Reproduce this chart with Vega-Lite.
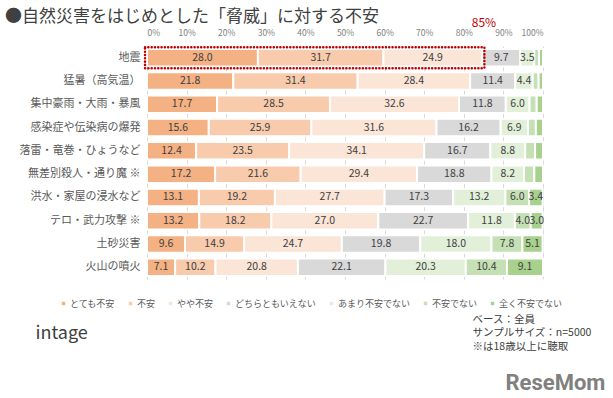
{
  "$schema": "https://vega.github.io/schema/vega-lite/v6.json",
  "width": 396,
  "height": 233,
  "autosize": {"type": "none"},
  "padding": {"left": 147, "top": 46, "right": 70, "bottom": 119},
  "background": "white",
  "config": {"font": "Noto Sans CJK JP", "view": {"stroke": null}},
  "title": {
    "text": "●自然災害をはじめとした「脅威」に対する不安",
    "anchor": "start",
    "frame": "group",
    "fontSize": 17,
    "fontWeight": "normal",
    "color": "#404040",
    "dx": -142,
    "dy": 13,
    "offset": 4
  },
  "datasets": {
    "survey": [
      {"i": "地震", "c": "とても不安", "o": 1, "v": 28.0},
      {"i": "地震", "c": "不安", "o": 2, "v": 31.7},
      {"i": "地震", "c": "やや不安", "o": 3, "v": 24.9},
      {"i": "地震", "c": "どちらともいえない", "o": 4, "v": 9.7},
      {"i": "地震", "c": "あまり不安でない", "o": 5, "v": 3.5},
      {"i": "地震", "c": "不安でない", "o": 6, "v": 1.2},
      {"i": "地震", "c": "全く不安でない", "o": 7, "v": 1.0},
      {"i": "猛暑（高気温）", "c": "とても不安", "o": 1, "v": 21.8},
      {"i": "猛暑（高気温）", "c": "不安", "o": 2, "v": 31.4},
      {"i": "猛暑（高気温）", "c": "やや不安", "o": 3, "v": 28.4},
      {"i": "猛暑（高気温）", "c": "どちらともいえない", "o": 4, "v": 11.4},
      {"i": "猛暑（高気温）", "c": "あまり不安でない", "o": 5, "v": 4.4},
      {"i": "猛暑（高気温）", "c": "不安でない", "o": 6, "v": 1.5},
      {"i": "猛暑（高気温）", "c": "全く不安でない", "o": 7, "v": 1.1},
      {"i": "集中豪雨・大雨・暴風", "c": "とても不安", "o": 1, "v": 17.7},
      {"i": "集中豪雨・大雨・暴風", "c": "不安", "o": 2, "v": 28.5},
      {"i": "集中豪雨・大雨・暴風", "c": "やや不安", "o": 3, "v": 32.6},
      {"i": "集中豪雨・大雨・暴風", "c": "どちらともいえない", "o": 4, "v": 11.8},
      {"i": "集中豪雨・大雨・暴風", "c": "あまり不安でない", "o": 5, "v": 6.0},
      {"i": "集中豪雨・大雨・暴風", "c": "不安でない", "o": 6, "v": 1.8},
      {"i": "集中豪雨・大雨・暴風", "c": "全く不安でない", "o": 7, "v": 1.6},
      {"i": "感染症や伝染病の爆発", "c": "とても不安", "o": 1, "v": 15.6},
      {"i": "感染症や伝染病の爆発", "c": "不安", "o": 2, "v": 25.9},
      {"i": "感染症や伝染病の爆発", "c": "やや不安", "o": 3, "v": 31.6},
      {"i": "感染症や伝染病の爆発", "c": "どちらともいえない", "o": 4, "v": 16.2},
      {"i": "感染症や伝染病の爆発", "c": "あまり不安でない", "o": 5, "v": 6.9},
      {"i": "感染症や伝染病の爆発", "c": "不安でない", "o": 6, "v": 2.0},
      {"i": "感染症や伝染病の爆発", "c": "全く不安でない", "o": 7, "v": 1.8},
      {"i": "落雷・竜巻・ひょうなど", "c": "とても不安", "o": 1, "v": 12.4},
      {"i": "落雷・竜巻・ひょうなど", "c": "不安", "o": 2, "v": 23.5},
      {"i": "落雷・竜巻・ひょうなど", "c": "やや不安", "o": 3, "v": 34.1},
      {"i": "落雷・竜巻・ひょうなど", "c": "どちらともいえない", "o": 4, "v": 16.7},
      {"i": "落雷・竜巻・ひょうなど", "c": "あまり不安でない", "o": 5, "v": 8.8},
      {"i": "落雷・竜巻・ひょうなど", "c": "不安でない", "o": 6, "v": 2.5},
      {"i": "落雷・竜巻・ひょうなど", "c": "全く不安でない", "o": 7, "v": 2.0},
      {"i": "無差別殺人・通り魔 ※", "c": "とても不安", "o": 1, "v": 17.2},
      {"i": "無差別殺人・通り魔 ※", "c": "不安", "o": 2, "v": 21.6},
      {"i": "無差別殺人・通り魔 ※", "c": "やや不安", "o": 3, "v": 29.4},
      {"i": "無差別殺人・通り魔 ※", "c": "どちらともいえない", "o": 4, "v": 18.8},
      {"i": "無差別殺人・通り魔 ※", "c": "あまり不安でない", "o": 5, "v": 8.2},
      {"i": "無差別殺人・通り魔 ※", "c": "不安でない", "o": 6, "v": 2.6},
      {"i": "無差別殺人・通り魔 ※", "c": "全く不安でない", "o": 7, "v": 2.2},
      {"i": "洪水・家屋の浸水など", "c": "とても不安", "o": 1, "v": 13.1},
      {"i": "洪水・家屋の浸水など", "c": "不安", "o": 2, "v": 19.2},
      {"i": "洪水・家屋の浸水など", "c": "やや不安", "o": 3, "v": 27.7},
      {"i": "洪水・家屋の浸水など", "c": "どちらともいえない", "o": 4, "v": 17.3},
      {"i": "洪水・家屋の浸水など", "c": "あまり不安でない", "o": 5, "v": 13.2},
      {"i": "洪水・家屋の浸水など", "c": "不安でない", "o": 6, "v": 6.0},
      {"i": "洪水・家屋の浸水など", "c": "全く不安でない", "o": 7, "v": 3.4},
      {"i": "テロ・武力攻撃 ※", "c": "とても不安", "o": 1, "v": 13.2},
      {"i": "テロ・武力攻撃 ※", "c": "不安", "o": 2, "v": 18.2},
      {"i": "テロ・武力攻撃 ※", "c": "やや不安", "o": 3, "v": 27.0},
      {"i": "テロ・武力攻撃 ※", "c": "どちらともいえない", "o": 4, "v": 22.7},
      {"i": "テロ・武力攻撃 ※", "c": "あまり不安でない", "o": 5, "v": 11.8},
      {"i": "テロ・武力攻撃 ※", "c": "不安でない", "o": 6, "v": 4.0},
      {"i": "テロ・武力攻撃 ※", "c": "全く不安でない", "o": 7, "v": 3.0},
      {"i": "土砂災害", "c": "とても不安", "o": 1, "v": 9.6},
      {"i": "土砂災害", "c": "不安", "o": 2, "v": 14.9},
      {"i": "土砂災害", "c": "やや不安", "o": 3, "v": 24.7},
      {"i": "土砂災害", "c": "どちらともいえない", "o": 4, "v": 19.8},
      {"i": "土砂災害", "c": "あまり不安でない", "o": 5, "v": 18.0},
      {"i": "土砂災害", "c": "不安でない", "o": 6, "v": 7.8},
      {"i": "土砂災害", "c": "全く不安でない", "o": 7, "v": 5.1},
      {"i": "火山の噴火", "c": "とても不安", "o": 1, "v": 7.1},
      {"i": "火山の噴火", "c": "不安", "o": 2, "v": 10.2},
      {"i": "火山の噴火", "c": "やや不安", "o": 3, "v": 20.8},
      {"i": "火山の噴火", "c": "どちらともいえない", "o": 4, "v": 22.1},
      {"i": "火山の噴火", "c": "あまり不安でない", "o": 5, "v": 20.3},
      {"i": "火山の噴火", "c": "不安でない", "o": 6, "v": 10.4},
      {"i": "火山の噴火", "c": "全く不安でない", "o": 7, "v": 9.1}
    ],
    "box": [{"i": "地震", "a": -0.5, "b": 85.2}],
    "note": [{"i": "地震", "x": 82, "t": "85%"}]
  },
  "resolve": {"axis": {"x": "independent", "y": "independent"}},
  "layer": [
    {
      "data": {"name": "survey"},
      "transform": [
        {"stack": "v", "groupby": ["i"], "sort": [{"field": "o"}], "as": ["v0", "v1"]}
      ],
      "mark": {"type": "bar", "stroke": "white", "strokeWidth": 2},
      "encoding": {
        "x": {
          "field": "v0", "type": "quantitative",
          "scale": {"domain": [0, 100], "nice": false},
          "axis": {
            "orient": "top", "values": [0, 10, 20, 30, 40, 50, 60, 70, 80, 90, 100],
            "labelExpr": "datum.value + '%'", "grid": true, "gridColor": "#d9d9d9",
            "domain": false, "ticks": false, "labelFontSize": 8.5, "labelColor": "#808080",
            "labelPadding": 9, "title": null
          }
        },
        "x2": {"field": "v1"},
        "y": {
          "field": "i", "type": "nominal",
          "sort": ["地震", "猛暑（高気温）", "集中豪雨・大雨・暴風", "感染症や伝染病の爆発", "落雷・竜巻・ひょうなど", "無差別殺人・通り魔 ※", "洪水・家屋の浸水など", "テロ・武力攻撃 ※", "土砂災害", "火山の噴火"],
          "scale": {"paddingInner": 0.25, "paddingOuter": 0.125},
          "axis": {
            "orient": "left", "ticks": false, "domain": false, "labelFontSize": 11,
            "labelColor": "#595959", "labelPadding": 7,
            "title": "intage", "titleAngle": 0, "titleX": -112, "titleY": 287,
            "titleAlign": "left", "titleBaseline": "middle", "titleFontSize": 18,
            "titleFontWeight": "normal", "titleColor": "#404040"
          }
        },
        "color": {
          "field": "c", "type": "nominal",
          "scale": {
            "domain": ["とても不安", "不安", "やや不安", "どちらともいえない", "あまり不安でない", "不安でない", "全く不安でない"],
            "range": ["#F4B183", "#F8CBAD", "#FBE5D6", "#D9D9D9", "#E2F0D9", "#C5E0B4", "#A9D18E"]
          },
          "legend": {
            "orient": "none", "legendX": -88, "legendY": 253, "direction": "horizontal",
            "columns": 7, "gridAlign": "none", "symbolType": "square", "symbolSize": 12, "symbolStrokeWidth": 0,
            "labelFontSize": 9, "labelColor": "#595959", "columnPadding": 10,
            "labelOffset": 2, "title": null
          }
        }
      }
    },
    {
      "data": {"name": "survey"},
      "transform": [
        {"stack": "v", "groupby": ["i"], "sort": [{"field": "o"}], "as": ["v0", "v1"]},
        {"calculate": "(datum.v0 + datum.v1) / 2", "as": "m"},
        {"filter": "datum.v >= 3"}
      ],
      "mark": {"type": "text", "fontSize": 10.5, "color": "#404040", "baseline": "middle"},
      "encoding": {
        "x": {
          "field": "m", "type": "quantitative",
          "axis": {
            "orient": "bottom", "labels": false, "ticks": false, "domain": false, "grid": false,
            "title": ["ベース：全員", "サンプルサイズ：n=5000", "※は18歳以上に聴取"],
            "titleX": 325, "titleY": 35, "titleAlign": "left", "titleBaseline": "top",
            "titleFontSize": 10.5, "titleFontWeight": "normal", "titleColor": "#404040",
            "titleLineHeight": 13.5
          }
        },
        "y": {
          "field": "i", "type": "nominal",
          "sort": ["地震", "猛暑（高気温）", "集中豪雨・大雨・暴風", "感染症や伝染病の爆発", "落雷・竜巻・ひょうなど", "無差別殺人・通り魔 ※", "洪水・家屋の浸水など", "テロ・武力攻撃 ※", "土砂災害", "火山の噴火"],
          "axis": {
            "orient": "right", "labels": false, "ticks": false, "domain": false, "grid": false,
            "title": "ReseMom", "titleAngle": 0, "titleX": -38, "titleY": 343,
            "titleAlign": "left", "titleBaseline": "alphabetic", "titleFontSize": 22,
            "titleFontWeight": "bold", "titleColor": "#808080", "titleFont": "Roboto"
          }
        },
        "text": {"field": "v", "type": "quantitative", "format": ".1f"}
      }
    },
    {
      "data": {"name": "box"},
      "mark": {"type": "bar", "filled": false, "stroke": "#C00000", "strokeWidth": 2.5, "strokeDash": [0.1, 3.2], "strokeCap": "round", "height": {"band": 1.2}},
      "encoding": {
        "x": {"field": "a", "type": "quantitative", "axis": null},
        "x2": {"field": "b"},
        "y": {
          "field": "i", "type": "nominal", "axis": null,
          "sort": ["地震", "猛暑（高気温）", "集中豪雨・大雨・暴風", "感染症や伝染病の爆発", "落雷・竜巻・ひょうなど", "無差別殺人・通り魔 ※", "洪水・家屋の浸水など", "テロ・武力攻撃 ※", "土砂災害", "火山の噴火"]
        }
      }
    },
    {
      "data": {"name": "note"},
      "mark": {"type": "text", "color": "#C00000", "fontSize": 12, "align": "left", "dy": -35},
      "encoding": {
        "x": {"field": "x", "type": "quantitative", "axis": null},
        "y": {
          "field": "i", "type": "nominal", "axis": null,
          "sort": ["地震", "猛暑（高気温）", "集中豪雨・大雨・暴風", "感染症や伝染病の爆発", "落雷・竜巻・ひょうなど", "無差別殺人・通り魔 ※", "洪水・家屋の浸水など", "テロ・武力攻撃 ※", "土砂災害", "火山の噴火"]
        },
        "text": {"field": "t"}
      }
    }
  ]
}
